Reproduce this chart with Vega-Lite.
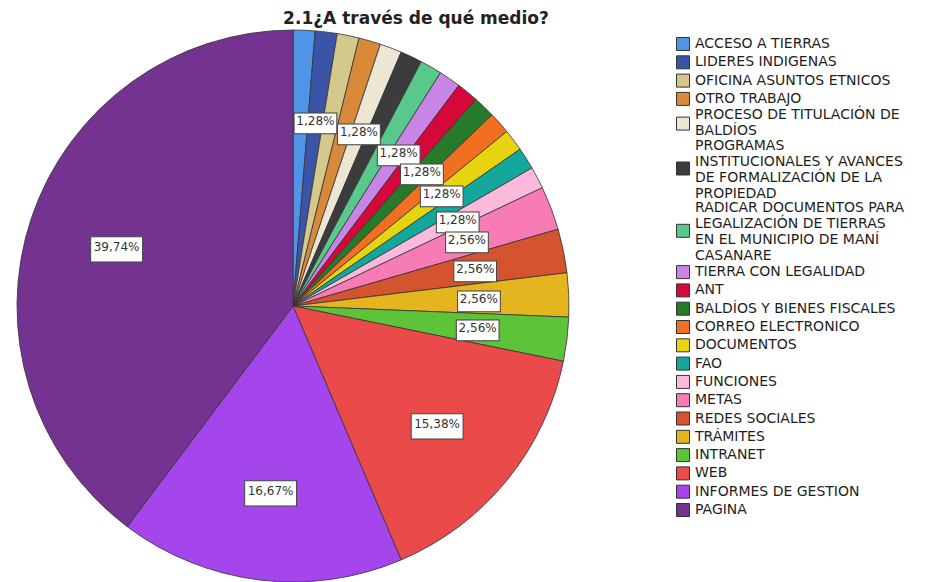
{
  "$schema": "https://vega.github.io/schema/vega-lite/v6.json",
  "width": 552,
  "height": 552,
  "autosize": "none",
  "padding": {"left": 17, "top": 30, "right": 361, "bottom": 0},
  "background": "white",
  "title": {"text": "2.1¿A través de qué medio?", "font": "DejaVu Sans", "fontSize": 17, "fontWeight": "bold", "color": "#222222", "anchor": "middle", "frame": "group", "dx": 123, "offset": 0},
  "data": {"values": [
    {"idx": 1, "medio": "ACCESO A TIERRAS", "n": 1, "label": ""},
    {"idx": 2, "medio": "LIDERES INDIGENAS", "n": 1, "label": "1,28%"},
    {"idx": 3, "medio": "OFICINA ASUNTOS ETNICOS", "n": 1, "label": ""},
    {"idx": 4, "medio": "OTRO TRABAJO", "n": 1, "label": ""},
    {"idx": 5, "medio": "PROCESO DE TITULACIÓN DE BALDÍOS", "n": 1, "label": "1,28%"},
    {"idx": 6, "medio": "PROGRAMAS INSTITUCIONALES Y AVANCES DE FORMALIZACIÓN DE LA PROPIEDAD", "n": 1, "label": ""},
    {"idx": 7, "medio": "RADICAR DOCUMENTOS PARA LEGALIZACIÓN DE TIERRAS EN EL MUNICIPIO DE MANÍ CASANARE", "n": 1, "label": ""},
    {"idx": 8, "medio": "TIERRA CON LEGALIDAD", "n": 1, "label": "1,28%"},
    {"idx": 9, "medio": "ANT", "n": 1, "label": ""},
    {"idx": 10, "medio": "BALDÍOS Y BIENES FISCALES", "n": 1, "label": "1,28%"},
    {"idx": 11, "medio": "CORREO ELECTRONICO", "n": 1, "label": ""},
    {"idx": 12, "medio": "DOCUMENTOS", "n": 1, "label": "1,28%"},
    {"idx": 13, "medio": "FAO", "n": 1, "label": ""},
    {"idx": 14, "medio": "FUNCIONES", "n": 1, "label": "1,28%"},
    {"idx": 15, "medio": "METAS", "n": 2, "label": "2,56%"},
    {"idx": 16, "medio": "REDES SOCIALES", "n": 2, "label": "2,56%"},
    {"idx": 17, "medio": "TRÁMITES", "n": 2, "label": "2,56%"},
    {"idx": 18, "medio": "INTRANET", "n": 2, "label": "2,56%"},
    {"idx": 19, "medio": "WEB", "n": 12, "label": "15,38%"},
    {"idx": 20, "medio": "INFORMES DE GESTION", "n": 13, "label": "16,67%"},
    {"idx": 21, "medio": "PAGINA", "n": 31, "label": "39,74%"}
  ]},
  "encoding": {
    "theta": {"field": "n", "type": "quantitative", "stack": true},
    "order": {"field": "idx", "type": "quantitative", "sort": "ascending"}
  },
  "layer": [
    {
      "mark": {"type": "arc", "stroke": "#333333", "strokeWidth": 0.8, "outerRadius": 276},
      "encoding": {
        "color": {
          "field": "medio", "type": "nominal",
          "scale": {
            "domain": ["ACCESO A TIERRAS", "LIDERES INDIGENAS", "OFICINA ASUNTOS ETNICOS", "OTRO TRABAJO", "PROCESO DE TITULACIÓN DE BALDÍOS", "PROGRAMAS INSTITUCIONALES Y AVANCES DE FORMALIZACIÓN DE LA PROPIEDAD", "RADICAR DOCUMENTOS PARA LEGALIZACIÓN DE TIERRAS EN EL MUNICIPIO DE MANÍ CASANARE", "TIERRA CON LEGALIDAD", "ANT", "BALDÍOS Y BIENES FISCALES", "CORREO ELECTRONICO", "DOCUMENTOS", "FAO", "FUNCIONES", "METAS", "REDES SOCIALES", "TRÁMITES", "INTRANET", "WEB", "INFORMES DE GESTION", "PAGINA"],
            "range": ["#4f94e6", "#3a55a8", "#d4c88a", "#d8893a", "#ece6d3", "#3c3c3c", "#58c98a", "#c985e6", "#d6083a", "#267a2a", "#f26f22", "#e6d40f", "#14a89c", "#fbb9dc", "#f77cb5", "#d45430", "#e5b51f", "#5dc43a", "#ea4a4a", "#a546ec", "#743390"]
          },
          "legend": {
            "title": null,
            "orient": "none",
            "legendX": 659,
            "legendY": 7,
            "symbolType": "square",
            "symbolSize": 169,
            "symbolStrokeColor": "#333333",
            "symbolStrokeWidth": 1,
            "symbolOpacity": 1,
            "labelFont": "DejaVu Sans",
            "labelFontSize": 14,
            "labelColor": "#1e1e1e",
            "labelLimit": 400,
            "labelOffset": 5,
            "labelLineHeight": 16.8,
            "rowPadding": 0.3,
            "labelExpr": "datum.label == 'PROCESO DE TITULACIÓN DE BALDÍOS' ? ['PROCESO DE TITULACIÓN DE', 'BALDÍOS'] : datum.label == 'PROGRAMAS INSTITUCIONALES Y AVANCES DE FORMALIZACIÓN DE LA PROPIEDAD' ? ['PROGRAMAS', 'INSTITUCIONALES Y AVANCES', 'DE FORMALIZACIÓN DE LA', 'PROPIEDAD'] : datum.label == 'RADICAR DOCUMENTOS PARA LEGALIZACIÓN DE TIERRAS EN EL MUNICIPIO DE MANÍ CASANARE' ? ['RADICAR DOCUMENTOS PARA', 'LEGALIZACIÓN DE TIERRAS', 'EN EL MUNICIPIO DE MANÍ', 'CASANARE'] : datum.label",
            "encode": {
              "symbols": {
                "update": {
                  "y": {"signal": "datum.size * 0.5 + (datum.value == 'PROCESO DE TITULACIÓN DE BALDÍOS' ? 8.4 : (length(datum.value) > 40 ? 23 : 0))"}
                }
              }
            }
          }
        }
      }
    },
    {
      "mark": {"type": "text", "radius": 186, "font": "DejaVu Sans", "fill": "white", "stroke": "#444444", "strokeWidth": 1, "align": "center", "baseline": "middle"},
      "encoding": {
        "text": {"condition": {"test": "datum.label != ''", "value": "▬"}, "value": ""},
        "size": {"condition": {"test": "length(datum.label) > 5", "value": 68}, "value": 56}
      }
    },
    {
      "mark": {"type": "text", "radius": 186, "font": "DejaVu Sans", "fontSize": 12, "fill": "#333333", "align": "center", "baseline": "middle"},
      "encoding": {
        "text": {"field": "label", "type": "nominal"}
      }
    }
  ]
}
